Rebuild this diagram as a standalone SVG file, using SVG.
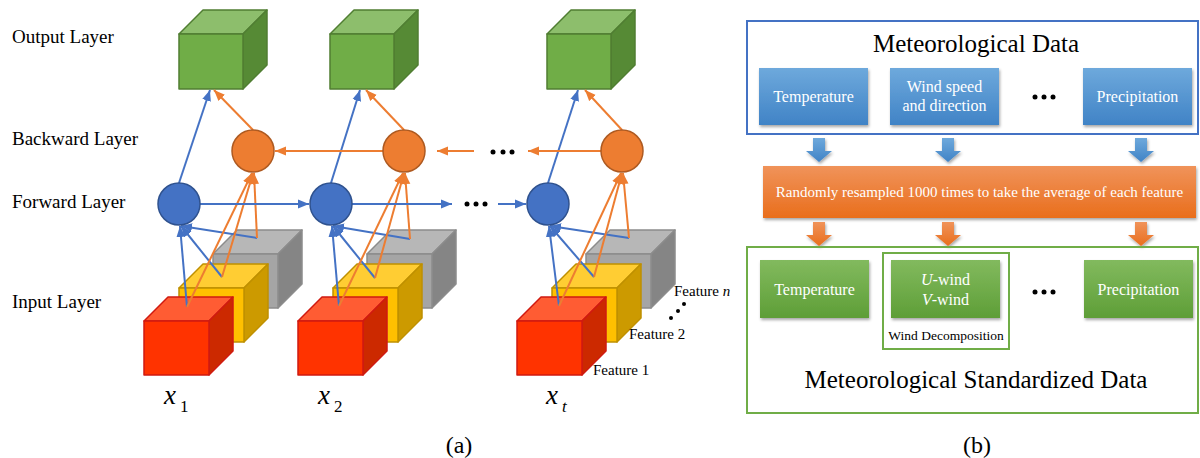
<svg xmlns="http://www.w3.org/2000/svg" width="1200" height="458" viewBox="0 0 1200 458">
  <style>
    text { font-family: "Liberation Serif", Tinos, "Times New Roman", "DejaVu Serif", serif; fill: #000; }
    .layer { font-size: 19px; }
    .feat { font-size: 15px; }
    .box-t { font-size: 16px; fill: #fff; text-anchor: middle; }
    .title { font-size: 25px; text-anchor: middle; }
    .cap { font-size: 24px; text-anchor: middle; }
    .xl { font-size: 27px; font-style: italic; }
    .xs { font-size: 17px; }
    .bl-a { stroke: #4472C4; stroke-width: 2; fill: none; marker-end: url(#ahBlue); }
    .or-a { stroke: #ED7D31; stroke-width: 2; fill: none; marker-end: url(#ahOrange); }
    .fwd { fill: #4472C4; stroke: #2F528F; stroke-width: 1.5; }
    .bwd { fill: #ED7D31; stroke: #AE5A21; stroke-width: 1.5; }
    .g-front { fill: #70AD47; } .g-top { fill: #8DBE6C; } .g-side { fill: #568A35; }
    .g-cube * { stroke: #507E32; stroke-width: 1.5; stroke-linejoin: round; }
    .r-front { fill: #FF3300; } .r-top { fill: #FF5C33; } .r-side { fill: #CC2900; }
    .r-cube * { stroke: #D01A10; stroke-width: 1.5; stroke-linejoin: round; }
    .y-front { fill: #FFC000; } .y-top { fill: #FFCD33; } .y-side { fill: #CC9A00; }
    .y-cube * { stroke: #BF9000; stroke-width: 1.5; stroke-linejoin: round; }
    .k-front { fill: #A5A5A5; } .k-top { fill: #B7B7B7; } .k-side { fill: #858585; }
    .k-cube * { stroke: #8C8C8C; stroke-width: 1.5; stroke-linejoin: round; }
    .dot { fill: #000; }
  </style>
  <defs>
    <marker id="ahBlue" markerUnits="userSpaceOnUse" markerWidth="12" markerHeight="10" viewBox="0 0 12 10" refX="11" refY="5" orient="auto">
      <path d="M0,0.5 L11,5 L0,9.5 Z" fill="#4472C4"/>
    </marker>
    <marker id="ahOrange" markerUnits="userSpaceOnUse" markerWidth="12" markerHeight="10" viewBox="0 0 12 10" refX="11" refY="5" orient="auto">
      <path d="M0,0.5 L11,5 L0,9.5 Z" fill="#ED7D31"/>
    </marker>
    <linearGradient id="gBlue" x1="0" y1="0" x2="0" y2="1">
      <stop offset="0" stop-color="#6EA9DC"/>
      <stop offset="1" stop-color="#4083C6"/>
    </linearGradient>
    <linearGradient id="gGreen" x1="0" y1="0" x2="0" y2="1">
      <stop offset="0" stop-color="#82BA5E"/>
      <stop offset="1" stop-color="#5E9E37"/>
    </linearGradient>
    <linearGradient id="gOrange" x1="0" y1="0" x2="0" y2="1">
      <stop offset="0" stop-color="#F0935A"/>
      <stop offset="1" stop-color="#E96E1C"/>
    </linearGradient>
    <filter id="shadow" x="-10%" y="-20%" width="125%" height="150%">
      <feDropShadow dx="1" dy="2" stdDeviation="1.5" flood-color="#000" flood-opacity="0.35"/>
    </filter>
    <!-- block arrow shape, tip at origin -->
    <path id="blockArrow" d="M-6,-24 L6,-24 L6,-11 L13,-11 L0,0 L-13,-11 L-6,-11 Z"/>
  </defs>

  <rect width="1200" height="458" fill="#fff"/>

  <!-- ===== Panel (a): bidirectional recurrent network ===== -->
  <g id="layer-labels">
    <text class="layer" x="12" y="43">Output Layer</text>
    <text class="layer" x="12" y="145">Backward Layer</text>
    <text class="layer" x="12" y="208">Forward Layer</text>
    <text class="layer" x="12" y="308">Input Layer</text>
  </g>

  <!-- output cubes -->
  <g id="out1" class="g-cube">
    <polygon class="g-top" points="179,34 203,10 267,10 243,34"/>
    <polygon class="g-side" points="243,34 267,10 267,65 243,89"/>
    <rect class="g-front" x="179" y="34" width="64" height="55"/>
  </g>
  <g id="out2" class="g-cube">
    <polygon class="g-top" points="330,34 354,10 418,10 394,34"/>
    <polygon class="g-side" points="394,34 418,10 418,65 394,89"/>
    <rect class="g-front" x="330" y="34" width="64" height="55"/>
  </g>
  <g id="outT" class="g-cube">
    <polygon class="g-top" points="547,34 571,10 635,10 611,34"/>
    <polygon class="g-side" points="611,34 635,10 635,65 611,89"/>
    <rect class="g-front" x="547" y="34" width="64" height="55"/>
  </g>

  <!-- input feature cubes, back to front -->
  <g id="in1-f3" class="k-cube">
    <polygon class="k-top" points="213,254 237,230 302,230 278,254"/>
    <polygon class="k-side" points="278,254 302,230 302,284 278,308"/>
    <rect class="k-front" x="213" y="254" width="65" height="54"/>
  </g>
  <g id="in1-f2" class="y-cube">
    <polygon class="y-top" points="179,288 203,264 268,264 244,288"/>
    <polygon class="y-side" points="244,288 268,264 268,318 244,342"/>
    <rect class="y-front" x="179" y="288" width="65" height="54"/>
  </g>
  <g id="in1-f1" class="r-cube">
    <polygon class="r-top" points="144,321 168,297 233,297 209,321"/>
    <polygon class="r-side" points="209,321 233,297 233,351 209,375"/>
    <rect class="r-front" x="144" y="321" width="65" height="54"/>
  </g>

  <g id="in2-f3" class="k-cube">
    <polygon class="k-top" points="367,254 391,230 456,230 432,254"/>
    <polygon class="k-side" points="432,254 456,230 456,284 432,308"/>
    <rect class="k-front" x="367" y="254" width="65" height="54"/>
  </g>
  <g id="in2-f2" class="y-cube">
    <polygon class="y-top" points="333,288 357,264 422,264 398,288"/>
    <polygon class="y-side" points="398,288 422,264 422,318 398,342"/>
    <rect class="y-front" x="333" y="288" width="65" height="54"/>
  </g>
  <g id="in2-f1" class="r-cube">
    <polygon class="r-top" points="298,321 322,297 387,297 363,321"/>
    <polygon class="r-side" points="363,321 387,297 387,351 363,375"/>
    <rect class="r-front" x="298" y="321" width="65" height="54"/>
  </g>

  <g id="inT-f3" class="k-cube">
    <polygon class="k-top" points="586,254 610,230 675,230 651,254"/>
    <polygon class="k-side" points="651,254 675,230 675,284 651,308"/>
    <rect class="k-front" x="586" y="254" width="65" height="54"/>
  </g>
  <g id="inT-f2" class="y-cube">
    <polygon class="y-top" points="552,288 576,264 641,264 617,288"/>
    <polygon class="y-side" points="617,288 641,264 641,318 617,342"/>
    <rect class="y-front" x="552" y="288" width="65" height="54"/>
  </g>
  <g id="inT-f1" class="r-cube">
    <polygon class="r-top" points="517,321 541,297 606,297 582,321"/>
    <polygon class="r-side" points="582,321 606,297 606,351 582,375"/>
    <rect class="r-front" x="517" y="321" width="65" height="54"/>
  </g>

  <!-- connectors -->
  <g id="connectors">
    <!-- inputs to forward cells -->
    <line class="bl-a" x1="187" y1="307" x2="180" y2="226"/>
    <line class="bl-a" x1="222" y1="277" x2="181" y2="226"/>
    <line class="bl-a" x1="257" y1="238" x2="181" y2="226"/>
    <line class="bl-a" x1="339" y1="306" x2="332" y2="226"/>
    <line class="bl-a" x1="375" y1="278" x2="333" y2="226"/>
    <line class="bl-a" x1="410" y1="239" x2="333" y2="226"/>
    <line class="bl-a" x1="559" y1="306" x2="549" y2="226"/>
    <line class="bl-a" x1="594" y1="277" x2="550" y2="226"/>
    <line class="bl-a" x1="629" y1="238" x2="550" y2="226"/>
    <!-- inputs to backward cells -->
    <line class="or-a" x1="187" y1="307" x2="252" y2="173"/>
    <line class="or-a" x1="222" y1="277" x2="253" y2="173"/>
    <line class="or-a" x1="257" y1="238" x2="254" y2="173"/>
    <line class="or-a" x1="339" y1="306" x2="403" y2="173"/>
    <line class="or-a" x1="375" y1="278" x2="404" y2="173"/>
    <line class="or-a" x1="410" y1="239" x2="405" y2="173"/>
    <line class="or-a" x1="559" y1="306" x2="621" y2="173"/>
    <line class="or-a" x1="594" y1="277" x2="622" y2="173"/>
    <line class="or-a" x1="629" y1="238" x2="623" y2="173"/>
    <!-- cells to outputs -->
    <line class="bl-a" x1="179" y1="183" x2="210" y2="90"/>
    <line class="or-a" x1="253" y1="130" x2="214" y2="90"/>
    <line class="bl-a" x1="331" y1="183" x2="360" y2="90"/>
    <line class="or-a" x1="404" y1="130" x2="366" y2="90"/>
    <line class="bl-a" x1="548" y1="183" x2="578" y2="90"/>
    <line class="or-a" x1="622" y1="130" x2="585" y2="90"/>
    <!-- forward recurrence -->
    <line class="bl-a" x1="200" y1="204" x2="309" y2="204"/>
    <line class="bl-a" x1="352" y1="204" x2="452" y2="204"/>
    <line class="bl-a" x1="498" y1="204" x2="526" y2="204"/>
    <!-- backward recurrence -->
    <line class="or-a" x1="383" y1="151" x2="275" y2="151"/>
    <line class="or-a" x1="474" y1="151" x2="437" y2="151"/>
    <line class="or-a" x1="601" y1="151" x2="528" y2="151"/>
  </g>

  <!-- recurrent cells -->
  <g id="bwd1"><circle class="bwd" cx="253" cy="151" r="21"/></g>
  <g id="bwd2"><circle class="bwd" cx="404" cy="151" r="21"/></g>
  <g id="bwdT"><circle class="bwd" cx="622" cy="151" r="21"/></g>
  <g id="fwd1"><circle class="fwd" cx="179" cy="204" r="21"/></g>
  <g id="fwd2"><circle class="fwd" cx="331" cy="204" r="21"/></g>
  <g id="fwdT"><circle class="fwd" cx="548" cy="204" r="21"/></g>

  <g id="ellipsis-a">
    <circle class="dot" cx="467" cy="204" r="2.5"/>
    <circle class="dot" cx="476" cy="204" r="2.5"/>
    <circle class="dot" cx="485" cy="204" r="2.5"/>
    <circle class="dot" cx="493" cy="152" r="2.5"/>
    <circle class="dot" cx="503" cy="152" r="2.5"/>
    <circle class="dot" cx="512" cy="152" r="2.5"/>
    <circle class="dot" cx="671" cy="318" r="2"/>
    <circle class="dot" cx="678" cy="311" r="2"/>
    <circle class="dot" cx="684" cy="304" r="2"/>
  </g>

  <g id="feature-labels">
    <text class="feat" x="593" y="375">Feature 1</text>
    <text class="feat" x="629" y="339">Feature 2</text>
    <text class="feat" x="674" y="296">Feature <tspan font-style="italic">n</tspan></text>
  </g>

  <g id="time-labels">
    <text class="xl" x="164" y="404">x</text><text class="xs" x="180" y="412">1</text>
    <text class="xl" x="318" y="404">x</text><text class="xs" x="334" y="412">2</text>
    <text class="xl" x="546" y="404">x</text><text class="xs" x="562" y="412" font-style="italic">t</text>
  </g>

  <text id="cap-a" class="cap" x="459" y="453">(a)</text>

  <!-- ===== Panel (b): data preprocessing ===== -->
  <g id="raw-data">
    <rect x="747" y="21" width="451" height="113" fill="none" stroke="#4472C4" stroke-width="2"/>
    <text class="title" x="976" y="52">Meteorological Data</text>
  </g>
  <g id="raw-temp">
    <rect x="759" y="68" width="109" height="57" fill="url(#gBlue)" filter="url(#shadow)"/>
    <text class="box-t" x="813.5" y="102">Temperature</text>
  </g>
  <g id="raw-wind">
    <rect x="890" y="68" width="109" height="57" fill="url(#gBlue)" filter="url(#shadow)"/>
    <text class="box-t" x="944.5" y="92">Wind speed</text>
    <text class="box-t" x="944.5" y="111">and direction</text>
  </g>
  <g id="raw-precip">
    <rect x="1083" y="68" width="109" height="57" fill="url(#gBlue)" filter="url(#shadow)"/>
    <text class="box-t" x="1137.5" y="102">Precipitation</text>
  </g>
  <g id="raw-ellipsis">
    <circle class="dot" cx="1035" cy="97" r="2.5"/>
    <circle class="dot" cx="1044" cy="97" r="2.5"/>
    <circle class="dot" cx="1053" cy="97" r="2.5"/>
  </g>

  <g id="resample">
    <rect x="763" y="166" width="433" height="52" fill="url(#gOrange)" filter="url(#shadow)"/>
    <text class="box-t" x="979.5" y="197" style="font-size:15px">Randomly resampled 1000 times to take the average of each feature</text>
  </g>

  <g id="flow-arrows">
    <use href="#blockArrow" x="819" y="162" fill="url(#gBlue)" filter="url(#shadow)"/>
    <use href="#blockArrow" x="948" y="162" fill="url(#gBlue)" filter="url(#shadow)"/>
    <use href="#blockArrow" x="1141" y="162" fill="url(#gBlue)" filter="url(#shadow)"/>
    <use href="#blockArrow" x="819" y="246" fill="url(#gOrange)" filter="url(#shadow)"/>
    <use href="#blockArrow" x="948" y="246" fill="url(#gOrange)" filter="url(#shadow)"/>
    <use href="#blockArrow" x="1141" y="246" fill="url(#gOrange)" filter="url(#shadow)"/>
  </g>

  <g id="std-data">
    <rect x="747" y="247" width="451" height="166" fill="none" stroke="#70AD47" stroke-width="2"/>
    <text class="title" x="976" y="388">Meteorological Standardized Data</text>
  </g>
  <g id="std-temp">
    <rect x="760" y="260" width="109" height="58" fill="url(#gGreen)" filter="url(#shadow)"/>
    <text class="box-t" x="814.5" y="295">Temperature</text>
  </g>
  <g id="wind-decomp">
    <rect x="883" y="253" width="126" height="96" fill="none" stroke="#70AD47" stroke-width="2"/>
    <rect x="891" y="260" width="109" height="58" fill="url(#gGreen)" filter="url(#shadow)"/>
    <text class="box-t" x="945.5" y="285"><tspan font-style="italic">U</tspan>-wind</text>
    <text class="box-t" x="945.5" y="305"><tspan font-style="italic">V</tspan>-wind</text>
    <text x="946" y="340" text-anchor="middle" style="font-size:13.5px">Wind Decomposition</text>
  </g>
  <g id="std-precip">
    <rect x="1084" y="260" width="109" height="58" fill="url(#gGreen)" filter="url(#shadow)"/>
    <text class="box-t" x="1138.5" y="295">Precipitation</text>
  </g>
  <g id="std-ellipsis">
    <circle class="dot" cx="1035" cy="292" r="2.5"/>
    <circle class="dot" cx="1044" cy="292" r="2.5"/>
    <circle class="dot" cx="1053" cy="292" r="2.5"/>
  </g>

  <text id="cap-b" class="cap" x="977" y="453">(b)</text>
</svg>
